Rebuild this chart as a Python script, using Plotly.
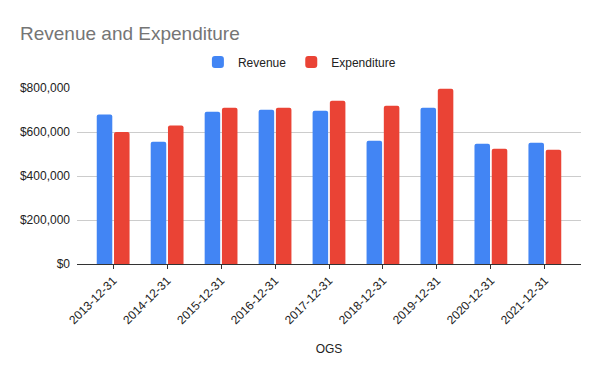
import plotly.graph_objects as go

categories = ["2013-12-31", "2014-12-31", "2015-12-31", "2016-12-31", "2017-12-31",
              "2018-12-31", "2019-12-31", "2020-12-31", "2021-12-31"]
revenue = [679000, 556000, 692000, 701000, 697000, 560000, 710000, 547000, 551000]
expenditure = [600000, 629000, 710000, 710000, 742000, 719000, 797000, 524000, 519000]
ytick_vals = [0, 200000, 400000, 600000, 800000]
ytick_text = ["$0", "$200,000", "$400,000", "$600,000", "$800,000"]

FONT = "Liberation Sans, Arial, sans-serif"

fig = go.Figure()
fig.add_trace(go.Bar(x=categories, y=revenue, name="Revenue", marker_color="#4285F4",
                     marker_line_width=0))
fig.add_trace(go.Bar(x=categories, y=expenditure, name="Expenditure", marker_color="#EA4335",
                     marker_line_width=0))

fig.update_layout(
    width=600, height=371,
    margin=dict(l=77, r=19, t=88, b=107, autoexpand=False),
    paper_bgcolor="white", plot_bgcolor="white",
    font=dict(family=FONT, size=12, color="#222222"),
    title=dict(text="Revenue and Expenditure", x=20/600, xanchor="left", xref="container",
               y=1 - 33/371, yanchor="middle", yref="container",
               font=dict(family=FONT, size=19, color="#757575")),
    legend=dict(orientation="h", x=0.499, xanchor="center", xref="container",
                y=1 - 62/371, yanchor="middle", yref="container",
                font=dict(family=FONT, size=12, color="#222222"),
                itemwidth=30, traceorder="normal"),
    barmode="group", bargap=0.36, bargroupgap=0.1,
    barcornerradius=2,
    xaxis=dict(
        type="category", range=[-0.67, 8.67], automargin=False,
        tickangle=-45, ticks="outside", ticklen=4, tickcolor="#333333",
        showline=True, linecolor="#333333", linewidth=1,
        showgrid=False, tickfont=dict(size=12, color="#222222"),
        title=dict(text="OGS", font=dict(size=12, color="#222222"), standoff=18),
    ),
    yaxis=dict(
        range=[0, 800000], tickvals=ytick_vals, ticktext=ytick_text, automargin=False,
        showgrid=True, gridcolor="#cccccc", gridwidth=1,
        zeroline=False, showline=False, ticks="",
        tickfont=dict(size=12, color="#222222"), ticklabelstandoff=6,
    ),
)

fig.write_html("out.html", config={"displayModeBar": False},
               post_script="document.body.style.margin='0';document.body.style.overflow='hidden';")
